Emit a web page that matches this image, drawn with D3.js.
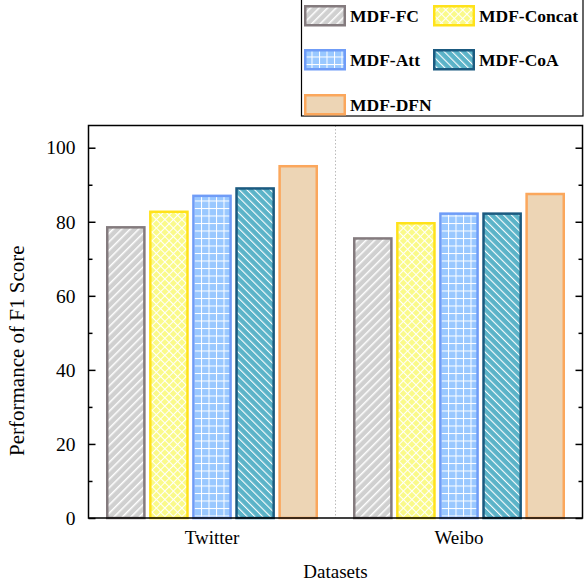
<!DOCTYPE html>
<html>
<head>
<meta charset="utf-8">
<script src="https://cdn.jsdelivr.net/npm/d3@7"></script>
<style>
  body { margin: 0; background: #fff; }
  text { font-family: "Liberation Serif", "Times New Roman", serif; }
</style>
</head>
<body>
<div id="chart"></div>
<script>
// Data
const datasets = ["Twitter", "Weibo"];
const methods = ["MDF-FC", "MDF-Concat", "MDF-Att", "MDF-CoA", "MDF-DFN"];
const scoresTwitter = [78.5, 82.7, 87.0, 89.0, 95.0];
const scoresWeibo = [75.5, 79.6, 82.2, 82.2, 87.5];
const yTicks = [0, 20, 40, 60, 80, 100];

const rows = datasets.map((d, i) => ({
    name: d,
    values: (i === 0 ? scoresTwitter : scoresWeibo).map((v, j) => ({ method: methods[j], value: v }))
}));

// Dimensions
const width = 584, height = 586;
const margin = { top: 125.5, right: 1.5, bottom: 68, left: 88.5 };
const innerW = width - margin.left - margin.right;
const innerH = height - margin.top - margin.bottom;

const svg = d3.select("#chart").append("svg")
    .attr("width", width)
    .attr("height", height);

// Patterns for each method
const defs = svg.append("defs");
const styles = {
    "MDF-FC":     { fill: "#d0d0d0", stroke: "#847b7e", pattern: "fwd" },
    "MDF-Concat": { fill: "#fafa8a", stroke: "#ffe21a", pattern: "cross" },
    "MDF-Att":    { fill: "#99c8ff", stroke: "#6f9cf7", pattern: "grid" },
    "MDF-CoA":    { fill: "#5bb3c8", stroke: "#1b5a80", pattern: "back" },
    "MDF-DFN":    { fill: "#edd5b5", stroke: "#fba75c", pattern: null }
};

methods.forEach((m, i) => {
    const s = styles[m];
    if (!s.pattern) return;
    let p;
    if (s.pattern === "fwd") {
        p = defs.append("pattern").attr("id", "pat" + i)
            .attr("patternUnits", "userSpaceOnUse")
            .attr("width", 6).attr("height", 6)
            .attr("patternTransform", "rotate(45)");
        p.append("rect").attr("width", 6).attr("height", 6).attr("fill", s.fill);
        p.append("line").attr("x1", 0).attr("y1", 0).attr("x2", 0).attr("y2", 6)
            .attr("stroke", "#fff").attr("stroke-width", 3);
    } else if (s.pattern === "back") {
        p = defs.append("pattern").attr("id", "pat" + i)
            .attr("patternUnits", "userSpaceOnUse")
            .attr("width", 5.5).attr("height", 5.5)
            .attr("patternTransform", "rotate(-45)");
        p.append("rect").attr("width", 5.5).attr("height", 5.5).attr("fill", s.fill);
        p.append("line").attr("x1", 0).attr("y1", 0).attr("x2", 0).attr("y2", 5.5)
            .attr("stroke", "#fff").attr("stroke-width", 2.2);
    } else if (s.pattern === "cross") {
        p = defs.append("pattern").attr("id", "pat" + i)
            .attr("patternUnits", "userSpaceOnUse")
            .attr("width", 6).attr("height", 6)
            .attr("patternTransform", "rotate(45)");
        p.append("rect").attr("width", 6).attr("height", 6).attr("fill", s.fill);
        p.append("line").attr("x1", 0).attr("y1", 0).attr("x2", 0).attr("y2", 6)
            .attr("stroke", "#fff").attr("stroke-width", 2);
        p.append("line").attr("x1", 0).attr("y1", 0).attr("x2", 6).attr("y2", 0)
            .attr("stroke", "#fff").attr("stroke-width", 2);
    } else if (s.pattern === "grid") {
        p = defs.append("pattern").attr("id", "pat" + i)
            .attr("patternUnits", "userSpaceOnUse")
            .attr("width", 7.5).attr("height", 7.5);
        p.append("rect").attr("width", 7.5).attr("height", 7.5).attr("fill", s.fill);
        p.append("line").attr("x1", 0).attr("y1", 0).attr("x2", 0).attr("y2", 7.5)
            .attr("stroke", "#fff").attr("stroke-width", 2);
        p.append("line").attr("x1", 0).attr("y1", 0).attr("x2", 7.5).attr("y2", 0)
            .attr("stroke", "#fff").attr("stroke-width", 2);
    }
});
const fillOf = m => styles[m].pattern ? `url(#pat${methods.indexOf(m)})` : styles[m].fill;

const g = svg.append("g").attr("transform", `translate(${margin.left},${margin.top})`);

// Scales
const x0 = d3.scaleBand().domain(datasets).range([0, innerW]);
const x1 = d3.scaleBand().domain(methods)
    .range([x0.bandwidth() / 2 - 106, x0.bandwidth() / 2 + 106])
    .paddingInner(0.08);
const y = d3.scaleLinear().domain([0, 106]).range([innerH, 0]);

// Separator between groups
g.append("line")
    .attr("x1", x0("Weibo")).attr("x2", x0("Weibo"))
    .attr("y1", 0).attr("y2", innerH)
    .attr("stroke", "#bbb").attr("stroke-dasharray", "1.5,2");

// Bars
const groups = g.selectAll(".group").data(rows).join("g")
    .attr("class", "group")
    .attr("transform", d => `translate(${x0(d.name)},0)`);

groups.selectAll("rect").data(d => d.values).join("rect")
    .attr("x", d => x1(d.method) + 1.25)
    .attr("width", x1.bandwidth() - 2.5)
    .attr("y", d => y(d.value))
    .attr("height", d => innerH - y(d.value))
    .attr("fill", d => fillOf(d.method))
    .attr("stroke", d => styles[d.method].stroke)
    .attr("stroke-width", 2.5);

// Axes
const yMinor = d3.range(10, 106, 20);
const axisLeft = d3.axisLeft(y).tickValues(yTicks).tickSize(-7).tickPadding(13);
const axisRight = d3.axisRight(y).tickValues(yTicks).tickSize(-7).tickFormat("");
const yAx = g.append("g").call(axisLeft);
yAx.selectAll("text").style("font-size", "19.5px").attr("fill", "#000");
g.append("g").call(d3.axisLeft(y).tickValues(yMinor).tickSize(-4).tickFormat(""));
g.append("g").attr("transform", `translate(${innerW},0)`).call(axisRight);
g.append("g").attr("transform", `translate(${innerW},0)`)
    .call(d3.axisRight(y).tickValues(yMinor).tickSize(-4).tickFormat(""));

const xAx = g.append("g").attr("transform", `translate(0,${innerH})`)
    .call(d3.axisBottom(x0).tickSize(0).tickPadding(13));
xAx.selectAll("text").style("font-size", "19px").attr("fill", "#000");
g.selectAll(".domain").remove();
g.selectAll(".tick line").attr("stroke", "#000").attr("stroke-width", 1.5);

// Frame
g.append("rect")
    .attr("width", innerW).attr("height", innerH)
    .attr("fill", "none").attr("stroke", "#000").attr("stroke-width", 1.5);

// Axis titles
svg.append("text")
    .attr("transform", `translate(24,${margin.top + innerH / 2 + 29}) rotate(-90)`)
    .attr("text-anchor", "middle")
    .style("font-size", "21px")
    .text("Performance of F1 Score");
svg.append("text")
    .attr("x", margin.left + innerW / 2).attr("y", 578)
    .attr("text-anchor", "middle")
    .style("font-size", "19px")
    .text("Datasets");

// Legend
const legend = svg.append("g").attr("transform", "translate(301,0)");
legend.append("rect")
    .attr("x", 0.5).attr("y", -1).attr("width", 281.5).attr("height", 117)
    .attr("fill", "#fff").attr("stroke", "#000").attr("stroke-width", 1.2);
const legendPos = [[3, 5], [132, 5], [3, 49], [132, 49], [3, 94]];
const items = legend.selectAll(".item").data(methods).join("g")
    .attr("class", "item")
    .attr("transform", (d, i) => `translate(${legendPos[i][0]},${legendPos[i][1]})`);
items.append("rect")
    .attr("x", 1.25).attr("y", 1.25)
    .attr("width", 39.5).attr("height", 19)
    .attr("fill", d => fillOf(d))
    .attr("stroke", d => styles[d].stroke)
    .attr("stroke-width", 2.5);
items.append("text")
    .attr("x", 46).attr("y", 17)
    .style("font-size", "17.5px")
    .style("font-weight", "bold")
    .text(d => d);
</script>
</body>
</html>
